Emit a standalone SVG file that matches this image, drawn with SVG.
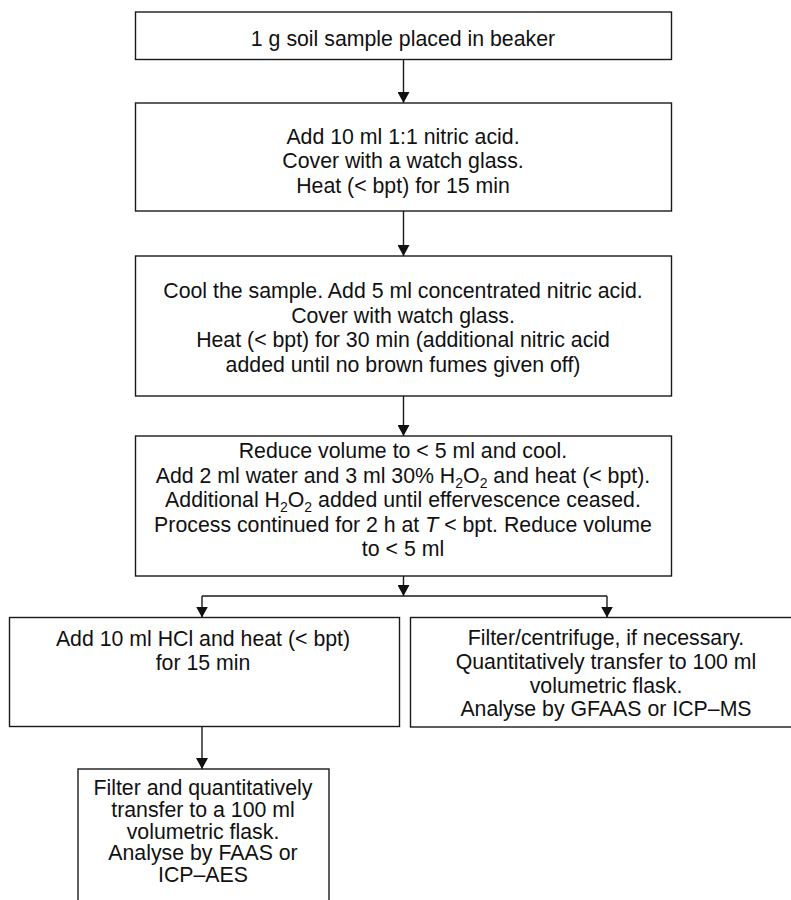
<svg xmlns="http://www.w3.org/2000/svg" width="791" height="900" viewBox="0 0 791 900">
  <style>
    .box { fill: #ffffff; stroke: #1a1a1a; stroke-width: 1.4; }
    .lbl { font-family: "Liberation Sans", Arial, sans-serif; font-size: 21.3px; fill: #111111; text-anchor: middle; }
    .sub { font-size: 14px; baseline-shift: -5px; }
    .wire { fill: none; stroke: #1a1a1a; stroke-width: 1.4; }
  </style>
  <defs>
    <!-- solid triangular head, tip on the line end -->
    <marker id="arrow" markerUnits="userSpaceOnUse" markerWidth="11" markerHeight="12" refX="10" refY="5.5" orient="auto" viewBox="0 0 10 11">
      <path d="M0,0 L10,5.5 L0,11 Z" fill="#111111"/>
    </marker>
  </defs>
  <rect width="791" height="900" fill="#ffffff"/>

  <!-- connectors -->
  <g id="connectors">
    <line class="wire" x1="403.5" y1="59.5" x2="403.5" y2="103" marker-end="url(#arrow)"/>
    <line class="wire" x1="403.5" y1="211" x2="403.5" y2="256" marker-end="url(#arrow)"/>
    <line class="wire" x1="403.5" y1="396" x2="403.5" y2="436" marker-end="url(#arrow)"/>
    <line class="wire" x1="403.5" y1="576" x2="403.5" y2="596" marker-end="url(#arrow)"/>
    <line class="wire" x1="202" y1="596" x2="607" y2="596"/>
    <line class="wire" x1="202" y1="596" x2="202" y2="617.5" marker-end="url(#arrow)"/>
    <line class="wire" x1="607" y1="596" x2="607" y2="617.5" marker-end="url(#arrow)"/>
    <line class="wire" x1="202" y1="726.5" x2="202" y2="769" marker-end="url(#arrow)"/>
  </g>

  <!-- step 1 -->
  <g id="step-sample">
    <rect class="box" x="135.5" y="12" width="536" height="47.5"/>
    <text class="lbl" x="403" y="46">1 g soil sample placed in beaker</text>
  </g>

  <!-- step 2 -->
  <g id="step-dilute-acid">
    <rect class="box" x="135.5" y="103" width="536" height="108"/>
    <text class="lbl" x="403" y="143.5">Add 10 ml 1:1 nitric acid.</text>
    <text class="lbl" x="403" y="168">Cover with a watch glass.</text>
    <text class="lbl" x="403" y="192.5">Heat (&lt; bpt) for 15 min</text>
  </g>

  <!-- step 3 -->
  <g id="step-conc-acid">
    <rect class="box" x="135.5" y="256" width="536" height="140"/>
    <text class="lbl" x="403" y="298">Cool the sample. Add 5 ml concentrated nitric acid.</text>
    <text class="lbl" x="403" y="322.5">Cover with watch glass.</text>
    <text class="lbl" x="403" y="347">Heat (&lt; bpt) for 30 min (additional nitric acid</text>
    <text class="lbl" x="403" y="371.5">added until no brown fumes given off)</text>
  </g>

  <!-- step 4 -->
  <g id="step-peroxide">
    <rect class="box" x="135.5" y="436" width="536" height="140"/>
    <text class="lbl" x="403" y="458">Reduce volume to &lt; 5 ml and cool.</text>
    <text class="lbl" x="403" y="482.5">Add 2 ml water and 3 ml 30% H<tspan class="sub">2</tspan>O<tspan class="sub">2</tspan> and heat (&lt; bpt).</text>
    <text class="lbl" x="403" y="507">Additional H<tspan class="sub">2</tspan>O<tspan class="sub">2</tspan> added until effervescence ceased.</text>
    <text class="lbl" x="403" y="531.5">Process continued for 2 h at <tspan font-style="italic">T</tspan> &lt; bpt. Reduce volume</text>
    <text class="lbl" x="403" y="556">to &lt; 5 ml</text>
  </g>

  <!-- left branch -->
  <g id="step-hcl">
    <rect class="box" x="9.5" y="617.5" width="390" height="109"/>
    <text class="lbl" x="203" y="645.5">Add 10 ml HCl and heat (&lt; bpt)</text>
    <text class="lbl" x="203" y="669.5">for 15 min</text>
  </g>

  <!-- right branch -->
  <g id="step-gfaas">
    <rect class="box" x="410.5" y="617.5" width="385" height="109.5"/>
    <text class="lbl" x="606" y="644.5">Filter/centrifuge, if necessary.</text>
    <text class="lbl" x="606" y="668.5">Quantitatively transfer to 100 ml</text>
    <text class="lbl" x="606" y="692.5">volumetric flask.</text>
    <text class="lbl" x="606" y="716">Analyse by GFAAS or ICP–MS</text>
  </g>

  <!-- final step on left branch -->
  <g id="step-faas">
    <rect class="box" x="78" y="769" width="251" height="140"/>
    <text class="lbl" x="203" y="795">Filter and quantitatively</text>
    <text class="lbl" x="203" y="817">transfer to a 100 ml</text>
    <text class="lbl" x="203" y="838.5">volumetric flask.</text>
    <text class="lbl" x="203" y="860">Analyse by FAAS or</text>
    <text class="lbl" x="203" y="882">ICP–AES</text>
  </g>
</svg>
